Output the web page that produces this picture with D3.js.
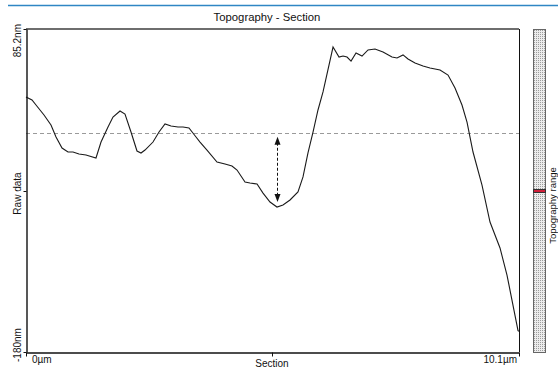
<!DOCTYPE html>
<html>
<head>
<meta charset="utf-8">
<script src="https://cdn.jsdelivr.net/npm/d3@7/dist/d3.min.js"></script>
<style>
  html, body { margin: 0; padding: 0; background: #fff; }
  svg { display: block; font-family: "Liberation Sans", Arial, sans-serif; }
</style>
</head>
<body>
<svg id="chart" width="558" height="369"></svg>
<script>
// Section profile: position along the section (µm) and raw height (nm)
const positionUm = [0.000, 0.123, 0.205, 0.369, 0.512, 0.615, 0.738, 0.860, 0.963, 1.086,
  1.229, 1.434, 1.537, 1.680, 1.782, 1.926, 2.028, 2.151, 2.274, 2.356,
  2.438, 2.602, 2.725, 2.848, 2.971, 3.114, 3.217, 3.339, 3.483, 3.565,
  3.708, 3.913, 4.077, 4.220, 4.323, 4.487, 4.589, 4.733, 4.856, 4.999,
  5.142, 5.265, 5.409, 5.572, 5.675, 5.777, 5.880, 5.982, 6.085, 6.290,
  6.413, 6.495, 6.577, 6.659, 6.761, 6.884, 7.007, 7.150, 7.314, 7.498,
  7.601, 7.724, 7.826, 7.970, 8.134, 8.277, 8.482, 8.646, 8.789, 8.932,
  9.035, 9.158, 9.342, 9.506, 9.711, 9.854, 10.080, 10.100];
const heightNm = [29.4, 26.9, 22.8, 14.6, 6.4, -3.5, -12.5, -15.8, -15.8, -17.4,
  -18.3, -20.7, -7.6, 4.7, 12.9, 17.9, 15.4, 0.6, -15.0, -16.6,
  -14.2, -7.6, 0.6, 7.2, 5.6, 4.7, 4.7, 3.9, -3.5, -7.6,
  -14.2, -24.0, -25.6, -27.3, -30.6, -40.4, -41.2, -42.1, -49.5, -56.9,
  -61.0, -59.3, -55.2, -48.6, -36.3, -16.6, 0.6, 18.7, 33.5, 70.4,
  62.2, 63.0, 62.2, 58.9, 65.5, 63.0, 68.0, 68.8, 66.3, 62.2,
  61.4, 63.9, 60.6, 57.3, 54.8, 53.2, 51.5, 47.4, 36.8, 22.8,
  8.8, -15.8, -42.9, -73.3, -94.6, -116.8, -162.5, -163.0];

// Axis extents and labels
const xDomain = [0, 10.1];
const yDomain = [-180, 85.2];
const xTickValues = [0, 10.1];
const xTickLabels = ["0µm", "10.1µm"];
const yTickValues = [85.2, -180];
const yTickLabels = ["85.2nm", "-180nm"];
const meanLevel = 0;          // reference (mean) line, nm
const depthAt = 5.142;        // position of the measured valley, µm
const rangeMarker = -48;      // marker on the topography range bar, nm
const titleText = "Topography - Section";
const xTitle = "Section";
const yTitle = "Raw data";
const barTitle = "Topography range";

const svg = d3.select("#chart");
const plot = { left: 26, top: 29, right: 519, bottom: 352 };

const x = d3.scaleLinear().domain(xDomain).range([plot.left, plot.right]);
const y = d3.scaleLinear().domain(yDomain).range([plot.bottom, plot.top]);

// Header rule
svg.append("line")
  .attr("x1", 8).attr("x2", 558).attr("y1", 5.5).attr("y2", 5.5)
  .attr("stroke", "#2f86c4").attr("stroke-width", 1.5);

// Title
svg.append("text")
  .attr("x", 267).attr("y", 21)
  .attr("text-anchor", "middle")
  .attr("font-size", 11.3).attr("fill", "#111")
  .text(titleText);

// Mean reference line
svg.append("line")
  .attr("x1", plot.left).attr("x2", plot.right)
  .attr("y1", Math.round(y(meanLevel)) + 0.5).attr("y2", Math.round(y(meanLevel)) + 0.5)
  .attr("stroke", "#9a9a9a").attr("stroke-dasharray", "4,3");

// Profile curve
const data = positionUm.map((p, i) => ({ p, h: heightNm[i] }));
svg.append("path")
  .datum(data)
  .attr("fill", "none")
  .attr("stroke", "#1a1a1a")
  .attr("stroke-width", 1.1)
  .attr("d", d3.line().x(d => x(d.p)).y(d => y(d.h)));

// Depth arrow between mean line and the valley bottom
const valley = data[d3.minIndex(data, d => Math.abs(d.p - depthAt))];
const ax = Math.round(x(valley.p)) + 0.5;
const yTop = y(meanLevel) + 4;
const yBot = y(valley.h) - 5;
svg.append("line")
  .attr("x1", ax).attr("x2", ax).attr("y1", yTop + 6).attr("y2", yBot - 6)
  .attr("stroke", "#111").attr("stroke-dasharray", "3,2").attr("stroke-width", 1);
svg.append("path")
  .attr("d", `M${ax},${yTop} L${ax - 3},${yTop + 8} L${ax + 3},${yTop + 8} Z`)
  .attr("fill", "#111");
svg.append("path")
  .attr("d", `M${ax},${yBot} L${ax - 3},${yBot - 8} L${ax + 3},${yBot - 8} Z`)
  .attr("fill", "#111");

// Frame: top border gray, right border black
svg.append("line")
  .attr("x1", plot.left).attr("x2", plot.right).attr("y1", plot.top).attr("y2", plot.top)
  .attr("stroke", "#6e6e6e").attr("stroke-width", 2);
svg.append("line")
  .attr("x1", plot.right + 0.5).attr("x2", plot.right + 0.5).attr("y1", plot.top).attr("y2", plot.bottom)
  .attr("stroke", "#111").attr("stroke-width", 1);

// Left axis
const yAxis = d3.axisLeft(y).tickValues(yTickValues.concat([y.invert((plot.top + plot.bottom) / 2 + 0.5)]))
  .tickFormat("").tickSizeInner(3).tickSizeOuter(0);
const gy = svg.append("g").attr("transform", `translate(${plot.left + 0.5},0)`).call(yAxis);
gy.select(".domain").attr("stroke", "#111").attr("stroke-width", 1.4);
gy.selectAll(".tick line").attr("stroke", "#111");
yTickValues.forEach((v, i) => {
  const yy = y(v);
  svg.append("text")
    .attr("transform", `translate(21,${i === 0 ? yy - 5 : yy + 10}) rotate(-90)`)
    .attr("text-anchor", i === 0 ? "end" : "start")
    .attr("font-size", 10).attr("fill", "#111")
    .text(yTickLabels[i]);
});
svg.append("text")
  .attr("transform", `translate(21,${(plot.top + plot.bottom) / 2 + 3}) rotate(-90)`)
  .attr("text-anchor", "middle")
  .attr("font-size", 10).attr("fill", "#111")
  .text(yTitle);

// Bottom axis
const xAxis = d3.axisBottom(x).tickValues(xTickValues.concat([x.invert(272)]))
  .tickFormat("").tickSizeInner(4).tickSizeOuter(0);
const gx = svg.append("g").attr("transform", `translate(0,${plot.bottom + 0.5})`).call(xAxis);
gx.select(".domain").attr("stroke", "#111").attr("stroke-width", 1.4);
gx.selectAll(".tick line").attr("stroke", "#111");
svg.append("text")
  .attr("x", x(xTickValues[0]) + 6).attr("y", 363)
  .attr("font-size", 10).attr("fill", "#111")
  .text(xTickLabels[0]);
svg.append("text")
  .attr("x", x(xTickValues[1]) - 2).attr("y", 363)
  .attr("text-anchor", "end")
  .attr("font-size", 10).attr("fill", "#111")
  .text(xTickLabels[1]);
svg.append("text")
  .attr("x", 272).attr("y", 367)
  .attr("text-anchor", "middle")
  .attr("font-size", 10).attr("fill", "#111")
  .text(xTitle);

// Topography range bar with stippled fill
const defs = svg.append("defs");
const pat = defs.append("pattern")
  .attr("id", "stipple").attr("width", 2).attr("height", 2)
  .attr("patternUnits", "userSpaceOnUse");
pat.append("rect").attr("width", 2).attr("height", 2).attr("fill", "#ececec");
pat.append("rect").attr("width", 1).attr("height", 1).attr("fill", "#9c9c9c");

const bar = { x: 533.5, w: 12 };
svg.append("rect")
  .attr("x", bar.x).attr("y", plot.top + 0.5)
  .attr("width", bar.w).attr("height", plot.bottom - plot.top)
  .attr("fill", "url(#stipple)").attr("stroke", "#666").attr("stroke-width", 1);
const my = Math.round(y(rangeMarker));
svg.append("rect")
  .attr("x", bar.x).attr("y", my - 1.5)
  .attr("width", bar.w).attr("height", 3)
  .attr("fill", "#d0203a").attr("stroke", "#333").attr("stroke-width", 1);

svg.append("text")
  .attr("transform", `translate(556,${(plot.top + plot.bottom) / 2 + 15}) rotate(-90)`)
  .attr("text-anchor", "middle")
  .attr("font-size", 9.5).attr("fill", "#111")
  .text(barTitle);
</script>
</body>
</html>
